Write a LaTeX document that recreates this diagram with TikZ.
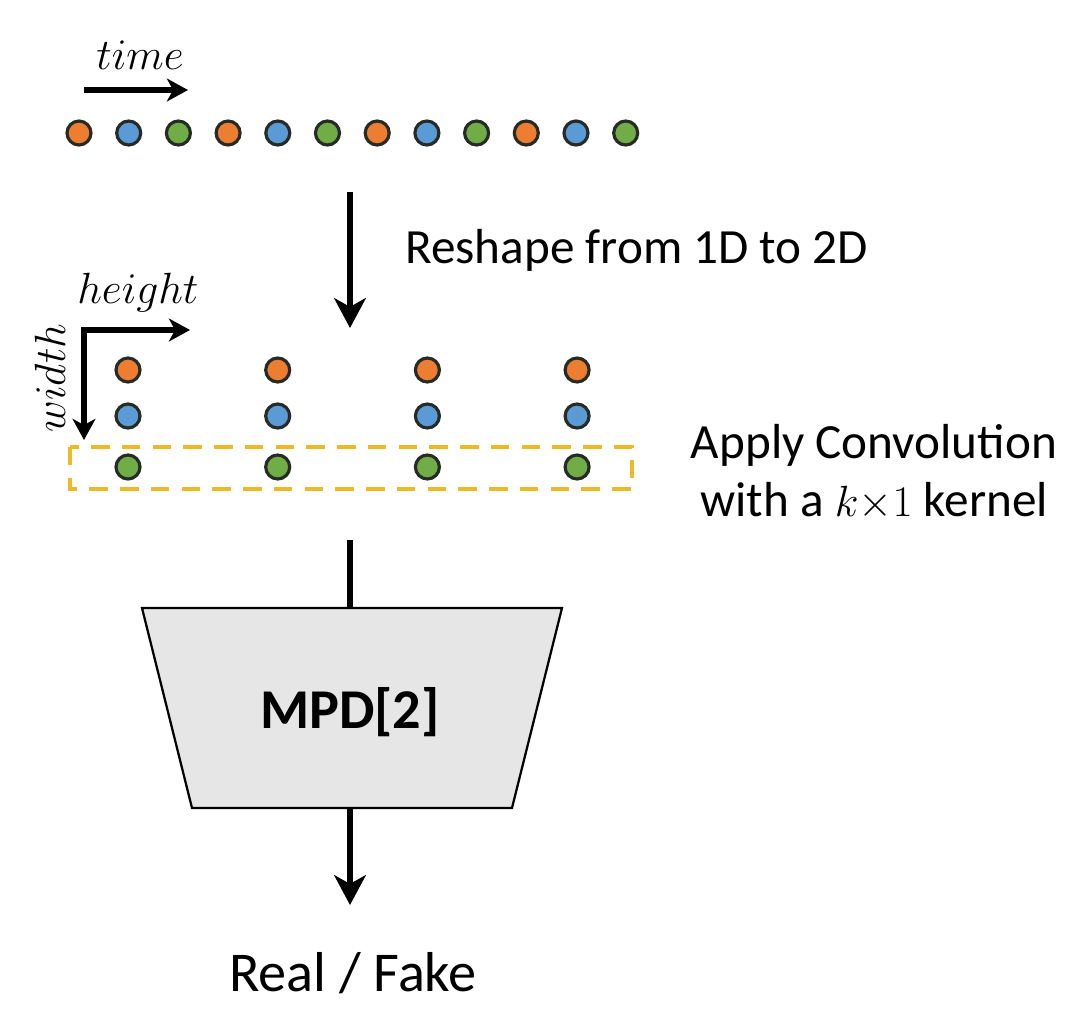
\documentclass[tikz,border=0pt]{standalone}
\usepackage{fontspec}
\setmainfont{Carlito}
\usetikzlibrary{arrows.meta}
\definecolor{dotorange}{HTML}{ED7D31}
\definecolor{dotblue}{HTML}{5B9BD5}
\definecolor{dotgreen}{HTML}{70AD47}
\definecolor{dotrim}{HTML}{262B26}
\definecolor{convgold}{HTML}{EDB927}
\definecolor{mpdgray}{HTML}{E6E6E6}
\tikzset{
    dot/.style={circle,draw=dotrim,line width=1.8pt,minimum size=0.48cm,inner sep=0},
    flow/.style={line width=3.6pt,draw=black},
    flowtip/.style={flow,-{Stealth[length=17pt,width=18pt,inset=5pt]}},
    axistip/.style={line width=3pt,line join=miter,{Stealth[length=12pt,width=13pt,inset=3.5pt]}-{Stealth[length=12pt,width=13pt,inset=3.5pt]}},
    convbox/.style={draw=convgold,line width=2.6pt,dash pattern=on 10.5pt off 7pt},
    label/.style={inner sep=0,font=\fontsize{28}{33}\selectfont},
    axislabel/.style={inner sep=0,font=\fontsize{24}{28}\selectfont}
}
\begin{document}
\begin{tikzpicture}[x=0.02cm,y=-0.02cm]
    \pgfmathsetmacro{\dotstep}{49.7}
    \pgfmathsetmacro{\colstep}{149.7}
    \providecommand{\mpdfontsize}{\fontsize{32}{38}\selectfont}
    \providecommand{\outfontsize}{\fontsize{32}{38}\selectfont}
    \useasboundingbox (0,0) rectangle (1086,1018);
    % 1D signal along time
    \node[axislabel] (timelbl) at (140,55) {$time$};
    \coordinate (t0) at (84,90);
    \coordinate (t1) at (188,90);
    \draw[flow,-{Stealth[length=12pt,width=13pt,inset=3.5pt]},line width=3pt] (t0) -- (t1);
    \foreach \c [count=\i from 0] in {dotorange,dotblue,dotgreen,dotorange,dotblue,dotgreen,dotorange,dotblue,dotgreen,dotorange,dotblue,dotgreen}
        \node[dot,fill=\c] (s\i) at (79+\i*\dotstep,133) {};
    % reshape
    \coordinate (rs0) at (350,192);
    \coordinate (rs1) at (350,328);
    \draw[flowtip] (rs0) -- (rs1);
    \node[label,anchor=west] (reshape) at (405,250) {Reshape from 1D to 2D};
    % 2D grid
    \coordinate (corner) at (84,330);
    \coordinate (hend) at (190,330);
    \coordinate (wend) at (84,440);
    \draw[axistip] (wend) -- (corner) -- (hend);
    \node[axislabel] (heightlbl) at (138,293) {$height$};
    \node[axislabel,rotate=90] (widthlbl) at (50,378) {$width$};
    \foreach \j in {0,...,3}{
        \node[dot,fill=dotorange] (g\j-1) at (128+\j*\colstep,370) {};
        \node[dot,fill=dotblue] (g\j-2) at (128+\j*\colstep,416) {};
        \node[dot,fill=dotgreen] (g\j-3) at (128+\j*\colstep,467) {};
    }
    \draw[convbox] (70,447) rectangle (632,489);
    \node[label,align=center] (apply) at (874,472) {Apply Convolution\\with a $k{\times}1$ kernel};
    % discriminator
    \coordinate (convin) at (350,540);
    \coordinate (mpdtop) at (350,608);
    \coordinate (mpdbot) at (350,808);
    \draw[flow] (convin) -- (mpdtop);
    \draw[fill=mpdgray,line width=1.3pt,line join=miter] (142,608) -- (562,608) -- (512,808) -- (192,808) -- cycle;
    \node[inner sep=0,font=\mpdfontsize\bfseries] (mpd) at (350,712) {MPD[2]};
    \coordinate (outin) at (350,905);
    \draw[flowtip] (mpdbot) -- (outin);
    \node[inner sep=0,font=\outfontsize] (out) at (353,973) {Real / Fake};
\end{tikzpicture}
\end{document}
